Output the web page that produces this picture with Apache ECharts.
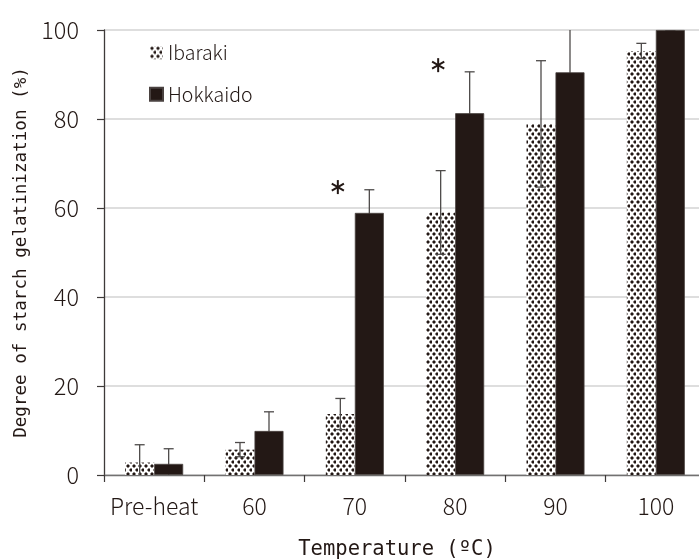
<!DOCTYPE html>
<html>
<head>
<meta charset="utf-8">
<script src="https://cdn.jsdelivr.net/npm/echarts@6/dist/echarts.min.js"></script>
<style>html,body{margin:0;padding:0;background:#fff}#c{width:699px;height:560px}</style>
</head>
<body>
<div id="c"></div>
<script>
var categories = ['Pre-heat', '60', '70', '80', '90', '100'];
var ibarakiMean = [2.8, 5.7, 13.7, 59.0, 78.9, 95.3];
var ibarakiSD = [4.0, 1.6, 3.5, 9.4, 14.2, 1.7];
var hokkaidoMean = [2.5, 9.9, 58.9, 81.3, 90.5, 100];
var hokkaidoSD = [3.4, 4.3, 5.2, 9.3, 10.5, 0];
var starCats = ['70', '80'];
var starValues = [64.7, 92.1];
var yTicks = [0, 20, 40, 60, 80, 100];

var INK = '#231815';
var FONT = '"Noto Sans CJK JP", "Noto Sans", sans-serif';
var MONO = '"DejaVu Sans Mono", "Liberation Mono", monospace';

function makePattern() {
  var c = document.createElement('canvas');
  c.width = 6; c.height = 8;
  var g = c.getContext('2d');
  g.fillStyle = '#ffffff';
  g.fillRect(0, 0, 6, 8);
  g.fillStyle = INK;
  function dot(x, y) {
    g.fillRect(x, y - 0.5, 2, 3);
    g.fillRect(x - 0.5, y, 3, 2);
  }
  dot(1, 1);
  dot(4, 5);
  return c;
}
var pattern = { image: makePattern(), repeat: 'repeat' };

var HALF = 14.5;
function errorSeries(name, means, sds, side, z) {
  var data = means.map(function (m, i) { return [i, m - sds[i], m + sds[i]]; });
  return {
    type: 'custom',
    name: name + '-err',
    z: z,
    clip: true,
    silent: true,
    data: data,
    encode: { x: 0, y: [1, 2] },
    renderItem: function (params, api) {
      var lo = api.coord([api.value(0), api.value(1)]);
      var hi = api.coord([api.value(0), api.value(2)]);
      var x = lo[0] + side * HALF;
      var cap = 5;
      var style = { stroke: '#4e4b4a', lineWidth: 1.3 };
      return {
        type: 'group',
        children: [
          { type: 'line', shape: { x1: x, y1: lo[1], x2: x, y2: hi[1] }, style: style },
          { type: 'line', shape: { x1: x - cap, y1: hi[1], x2: x + cap, y2: hi[1] }, style: style },
          { type: 'line', shape: { x1: x - cap, y1: lo[1], x2: x + cap, y2: lo[1] }, style: style }
        ]
      };
    }
  };
}

var chart = echarts.init(document.getElementById('c'), null, { renderer: 'canvas' });
chart.setOption({
  animation: false,
  backgroundColor: '#ffffff',
  grid: { left: 104, top: 30, bottom: 85, width: 602, containLabel: false, outerBoundsMode: 'none' },
  legend: {
    orient: 'vertical',
    left: 144,
    top: 38,
    itemWidth: 13,
    itemHeight: 13,
    itemGap: 22,
    icon: 'rect',
    data: ['Ibaraki', 'Hokkaido'],
    textStyle: { fontFamily: FONT, fontSize: 19.5, fontWeight: 300, color: INK }
  },
  xAxis: {
    type: 'category',
    data: categories,
    name: 'Temperature (ºC)',
    nameLocation: 'middle',
    nameGap: 64,
    nameTextStyle: { fontFamily: MONO, fontSize: 20.5, color: INK, padding: [0, 16, 0, 0] },
    axisLine: { lineStyle: { color: '#727171', width: 1.3 } },
    axisTick: { show: true, length: 7, interval: 0, alignWithLabel: false, lineStyle: { color: '#3e3a39', width: 1.2 } },
    axisLabel: { interval: 0, margin: 20, fontFamily: FONT, fontSize: 23, fontWeight: 300, color: INK },
    splitLine: { show: false }
  },
  yAxis: {
    type: 'value',
    min: 0,
    max: 100,
    interval: 20,
    name: 'Degree of starch gelatinization (%)',
    nameLocation: 'middle',
    nameGap: 69,
    nameTextStyle: { fontFamily: MONO, fontSize: 17.6, color: INK },
    axisLine: { show: true, lineStyle: { color: '#3e3a39', width: 1.3 } },
    axisTick: { show: true, length: 7, lineStyle: { color: '#3e3a39', width: 1.2 } },
    axisLabel: {
      margin: 25, fontFamily: FONT, fontSize: 23.5, fontWeight: 300, color: INK,
      customValues: yTicks
    },
    splitLine: { lineStyle: { color: '#d3d3d3', width: 1.5 } }
  },
  series: [
    {
      name: 'Ibaraki',
      type: 'bar',
      data: ibarakiMean,
      barWidth: 29,
      barGap: '0%',
      z: 2,
      itemStyle: { color: pattern }
    },
    {
      name: 'Hokkaido',
      type: 'bar',
      data: hokkaidoMean,
      barWidth: 29,
      barGap: '0%',
      z: 2,
      itemStyle: { color: INK, borderColor: '#4a4240', borderWidth: 0.8 }
    },
    errorSeries('Ibaraki', ibarakiMean, ibarakiSD, -1, 5),
    errorSeries('Hokkaido', hokkaidoMean, hokkaidoSD, 1, 1),
    {
      type: 'custom',
      name: 'sig',
      z: 6,
      silent: true,
      data: starCats.map(function (c, i) { return [c, starValues[i]]; }),
      renderItem: function (params, api) {
        var p = api.coord([api.value(0), api.value(1)]);
        var cx = p[0] - 17, cy = p[1], r = 7;
        var style = { stroke: INK, lineWidth: 2 };
        var kids = [];
        [90, 30, 150].forEach(function (a) {
          var rad = a * Math.PI / 180;
          kids.push({ type: 'line', shape: { x1: cx - r * Math.cos(rad), y1: cy - r * Math.sin(rad), x2: cx + r * Math.cos(rad), y2: cy + r * Math.sin(rad) }, style: style });
        });
        return { type: 'group', children: kids };
      }
    }
  ]
});
</script>
</body>
</html>
